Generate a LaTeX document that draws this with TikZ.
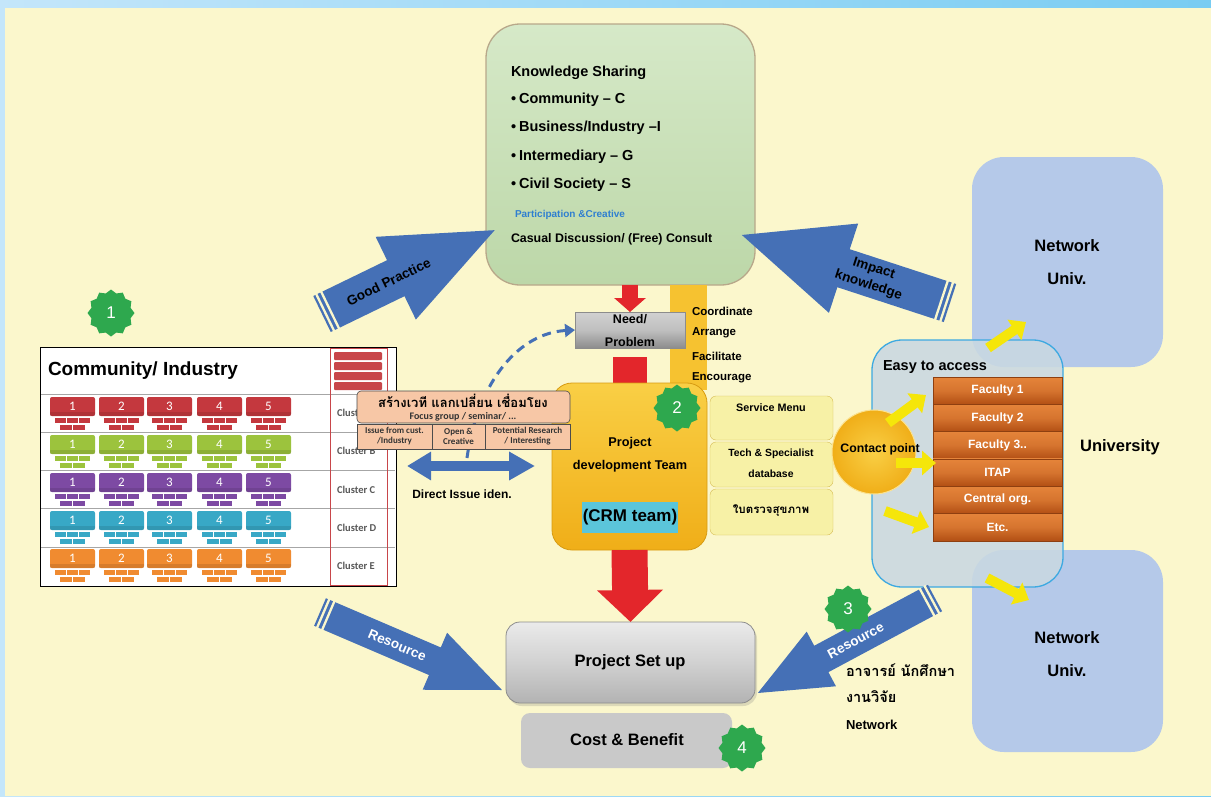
\documentclass[tikz,border=0pt]{standalone}
\usepackage{fontspec}
\setmainfont{Liberation Sans}
\newfontfamily\thai[Script=Thai]{Loma}
\newfontfamily\calfont{Carlito}
\usetikzlibrary{shapes.geometric,arrows.meta,shadows}
\newcommand\fs[1]{\fontsize{#1}{#1}\selectfont}
\definecolor{cream}{HTML}{FBF7CC}
\definecolor{blueL}{HTML}{C4E6FA}
\definecolor{blueR}{HTML}{78CCF2}
\definecolor{kgreenT}{HTML}{D6E9C8}
\definecolor{kgreenB}{HTML}{BCD7A8}
\definecolor{kborder}{HTML}{B8A88A}
\definecolor{arrowblue}{HTML}{4570B6}
\definecolor{pblue}{HTML}{2F7FD0}
\definecolor{ared}{HTML}{E3262B}
\definecolor{gold}{HTML}{F6C230}
\definecolor{goldT}{HTML}{F9CF45}
\definecolor{goldB}{HTML}{F0AE18}
\definecolor{goldD}{HTML}{D79B12}
\definecolor{hcyan}{HTML}{5BC5DA}
\definecolor{svcF}{HTML}{F7F1A6}
\definecolor{svcD}{HTML}{D6BC55}
\definecolor{easyF}{HTML}{C9D8E2}
\definecolor{easyB}{HTML}{3DA9E1}
\definecolor{netF}{HTML}{B5C9E9}
\definecolor{facT}{HTML}{E5843A}
\definecolor{facB}{HTML}{B24F14}
\definecolor{yel}{HTML}{F5E60A}
\definecolor{sgreen}{HTML}{2EA84E}
\definecolor{salmon}{HTML}{F7C7A6}
\definecolor{grayBox}{HTML}{C9C9C9}
\definecolor{tRed}{HTML}{C4383E}
\definecolor{tGreen}{HTML}{9CC33D}
\definecolor{tPurple}{HTML}{7D4AA3}
\definecolor{tCyan}{HTML}{38A8C6}
\definecolor{tOrange}{HTML}{F08B30}
\definecolor{colRed}{HTML}{C8464A}
% fat block arrow: tail x, tail y, angle, length, shaft half, head half, head length, extra code
\newcommand\FatArrow[8]{%
  \begin{scope}[shift={(#1,#2)},rotate=#3]
    \fill[arrowblue] (0,-#5) -- ({#4-#7},-#5) -- ({#4-#7},-#6) -- (#4,0) -- ({#4-#7},#6) -- ({#4-#7},#5) -- (0,#5) -- cycle;
    \draw[cream,line width=2.3pt] (3.5,{-#5-1}) -- (3.5,{#5+1});
    \draw[cream,line width=2.3pt] (9,{-#5-1}) -- (9,{#5+1});
    #8
  \end{scope}}
\begin{document}
\begin{tikzpicture}[x=1pt,y=-1pt,every node/.style={inner sep=0pt,outer sep=0pt},
  bt/.style={font=\bfseries\fs{#1}},
  star1/.style={star, star points=12, star point ratio=1.16, fill=sgreen, minimum size=47pt, text=white, font=\fs{17}},
  netbox/.style={fill=netF, rounded corners=32pt, minimum width=191pt, minimum height=210pt, anchor=north west},
  fac/.style={draw=facB!80!black, top color=facT, bottom color=facB, middle color=facT!70!facB, minimum width=129pt, minimum height=27.3pt, anchor=north west, text=white, font=\bfseries\fs{12}},
  svc/.style={draw=svcD, fill=svcF, rounded corners=6pt, minimum width=123pt, anchor=north west},
  thbox/.style={draw=black!70, fill=salmon, line width=0.6pt},
  yarrow/.style={yel, line width=10pt, -{Triangle[length=14pt,width=24pt]}},
]
\useasboundingbox (0,0) rectangle (1211,796);
% background
\shade[left color=blueL,right color=blueR] (0,0) rectangle (1211,796);
\fill[cream] (5,8) rectangle (1211,796);

% network boxes
\node[netbox] (nu1) at (972,157) {};
\node[netbox, minimum height=202pt] (nu2) at (972,550) {};
\node[font=\bfseries\fs{16.5}] (nu1a) at (1067,246) {Network};
\node[font=\bfseries\fs{16.5}] (nu1b) at (1067,279) {Univ.};
\node[font=\bfseries\fs{16.5}] (nu2a) at (1067,638) {Network};
\node[font=\bfseries\fs{16.5}] (nu2b) at (1067,671) {Univ.};

% easy to access
\node[draw=easyB, line width=1.3pt, fill=easyF, fill opacity=0.88, rounded corners=30pt, minimum width=191pt, minimum height=247pt, anchor=north west] (easy) at (872,340) {};
\node[bt=14.5, anchor=west] (easyt) at (883,367) {Easy to access};
\foreach \i/\t in {0/Faculty 1,1/Faculty 2,2/Faculty 3..,3/ITAP,4/Central org.,5/Etc.}{
  \node[fac] (f\i) at (933,{377+27.3*\i}) {\t};
}
\node[bt=16.5] (univ) at (1120,447) {University};

% knowledge sharing box
\node[draw=kborder, line width=1.3pt, top color=kgreenT, bottom color=kgreenB, rounded corners=34pt, minimum width=269pt, minimum height=261pt, anchor=north west] (ks) at (486,24) {};
\node[bt=14.5, anchor=west] (ks0) at (511,73) {Knowledge Sharing};
\node[bt=14.5, anchor=west] (ks1) at (511,100) {\textbullet\hspace{3pt}Community – C};
\node[bt=14.5, anchor=west] (ks2) at (511,128) {\textbullet\hspace{3pt}Business/Industry –I};
\node[bt=14.5, anchor=west] (ks3) at (511,157) {\textbullet\hspace{3pt}Intermediary – G};
\node[bt=14.5, anchor=west] (ks4) at (511,185) {\textbullet\hspace{3pt}Civil Society – S};
\node[bt=10, anchor=west, text=pblue] (ks5) at (515,215) {Participation \&Creative};
\node[bt=12.4, anchor=west] (ks6) at (511,239) {Casual Discussion/ (Free) Consult};

% gold bar and red parts
\fill[gold] (670,285) rectangle (707,390);
\node[draw=black!45, top color=black!18, bottom color=black!45, middle color=black!25, minimum width=110pt, minimum height=36pt, anchor=north west] (need) at (575,312) {};
\node[bt=12.5] (need1) at (630,319) {Need/};
\node[bt=12.5] (need2) at (630,342) {Problem};
\draw[ared, line width=16pt, -{Triangle[length=14pt,width=31pt]}] ([xshift=9.5pt]ks.south) -- (need.north);
\fill[ared] (613,357) rectangle (647,390);

% coordinate texts
\node[bt=11.5, anchor=west] (co1) at (692,311) {Coordinate};
\node[bt=11.5, anchor=west] (co2) at (692,333) {Arrange};
\node[bt=11.5, anchor=west] (co3) at (692,356) {Facilitate};
\node[bt=11.5, anchor=west] (co4) at (692,378) {Encourage};

% project development team
\node[draw=goldD, line width=0.8pt, top color=goldT, bottom color=goldB, rounded corners=20pt, minimum width=155pt, minimum height=167pt, anchor=north west] (pdt) at (552,383) {};
\node[bt=12.7] (pdt1) at (630,443) {Project};
\node[bt=12.7] (pdt2) at (630,466) {development Team};
\node[fill=hcyan, minimum width=96pt, minimum height=31pt, bt=17] (crm) at (630,517) {(CRM team)};

% service boxes
\node[svc, minimum height=44pt] (sv1) at (710,396) {};
\node[svc, minimum height=45pt] (sv2) at (710,442) {};
\node[svc, minimum height=46pt] (sv3) at (710,489) {};
\node[bt=10.8] (sv1t) at (771,408) {Service Menu};
\node[bt=10.4] (sv2t) at (771,454) {Tech \& Specialist};
\node[bt=10.4] (sv2u) at (771,474) {database};
\node[font=\thai\bfseries\fs{11.5}] (sv3t) at (771,511) {ใบตรวจสุขภาพ};

% contact point
\node[circle, draw=goldT!60!white, line width=1pt, inner color=goldT, outer color=goldB, minimum size=84pt] (cp) at (874,452) {};
\node[bt=12.3] (cpt) at (880,449) {Contact point};

% yellow arrows
\coordinate (y1s) at (888,423); \coordinate (y1e) at (926,395);
\coordinate (y2s) at (896,463); \coordinate (y2e) at (936,463);
\coordinate (y3s) at (885,511); \coordinate (y3e) at (929,527);
\coordinate (y4s) at (988,348); \coordinate (y4e) at (1026,322);
\coordinate (y5s) at (987,578); \coordinate (y5e) at (1029,600);
\draw[yarrow] (y1s) -- (y1e);
\draw[yarrow] (y2s) -- (y2e);
\draw[yarrow] (y3s) -- (y3e);
\draw[yarrow] (y4s) -- (y4e);
\draw[yarrow] (y5s) -- (y5e);

% big red arrow to project set up
\node[draw=black!45, line width=0.8pt, top color=black!8, bottom color=black!30, middle color=black!18, rounded corners=14pt, minimum width=249pt, minimum height=81pt, anchor=north west, drop shadow={opacity=0.25,shadow xshift=2pt,shadow yshift=-3pt}] (psu) at (506,622) {};
\node[bt=16.5] (psut) at (630,662) {Project Set up};
\draw[ared, line width=36pt, -{Triangle[length=32pt,width=64pt]}] (pdt.south) -- (psu.north);
\node[fill=grayBox, rounded corners=9pt, minimum width=211pt, minimum height=55pt, anchor=north west] (cb) at (521,713) {};
\node[bt=16.5] (cbt) at (627,740) {Cost \& Benefit};

% community / industry picture
\node[draw=black, line width=1pt, fill=white, minimum width=356pt, minimum height=239pt, anchor=north west] (ci) at (40,347) {};
\node[font=\bfseries\fs{19}, anchor=west] (cit) at (48,371) {Community/ Industry};
\foreach \yy in {394,432,470,508,547}{
  \draw[black!35, line width=0.7pt] (41,\yy) -- (395,\yy);
}
\draw[colRed, line width=1pt] (330,348) rectangle (387,585);
\foreach \i in {0,1,2,3}{
  \fill[colRed, rounded corners=1pt] (334,{352+10*\i}) rectangle ++(48,8);
}
\foreach \r/\col in {0/tRed,1/tGreen,2/tPurple,3/tCyan,4/tOrange}{
  \foreach \c/\xx in {1/50,2/99,3/147,4/197,5/246}{
    \pgfmathsetmacro\yy{397+38*\r}
    \fill[\col, rounded corners=2pt] (\xx,\yy) rectangle ++(45,19);
    \fill[\col!60!black, opacity=0.25] (\xx,\yy+15) rectangle ++(45,4);
    \node[text=white, font=\calfont\fs{13}] (t\r\c) at (\xx+22.5,\yy+9) {\c};
    \fill[\col] (\xx+5,\yy+21) rectangle ++(11,5);
    \fill[\col] (\xx+17,\yy+21) rectangle ++(11,5);
    \fill[\col] (\xx+29,\yy+21) rectangle ++(11,5);
    \fill[\col] (\xx+10,\yy+28) rectangle ++(12,5);
    \fill[\col] (\xx+23,\yy+28) rectangle ++(12,5);
  }
}
\foreach \r/\l in {0/A,1/B,2/C,3/D,4/E}{
  \node[font=\calfont\bfseries\fs{10.5}, text=black!65, anchor=west] (cl\r) at (337,{413+38.3*\r}) {Cluster \l};
}

% dashed arrow from direct issue to need/problem
\coordinate (dstart) at (467,458);
\draw[arrowblue, line width=3pt, dash pattern=on 9pt off 6pt, -{Triangle[length=10pt,width=13pt]}] (dstart) .. controls (478,380) and (520,333) .. (need.west);

% thai overlay box
\node[thbox, rounded corners=4pt, minimum width=213pt, minimum height=32pt, anchor=north west] (tb) at (357,391) {};
\node[font=\thai\bfseries\fs{13}] (tbt) at (463,401) {สร้างเวที แลกเปลี่ยน เชื่อมโยง};
\node[font=\calfont\bfseries\fs{10}, text=black!80] (tbf) at (463,417) {Focus group / seminar/ ...};
\node[thbox, minimum width=75pt, minimum height=25pt, anchor=north west] (tb1) at (357,424) {};
\node[thbox, minimum width=53pt, minimum height=25pt, anchor=north west] (tb2) at (432,424) {};
\node[thbox, minimum width=85pt, minimum height=25pt, anchor=north west] (tb3) at (485,424) {};
\node[font=\calfont\bfseries\fs{9}, text=black!80, align=center] (tb1t) at (tb1.center) {Issue from cust.\\[1pt]/Industry};
\node[font=\calfont\bfseries\fs{9}, text=black!80, align=center] (tb2t) at (tb2.center) {Open \&\\[1pt]Creative};
\node[font=\calfont\bfseries\fs{9}, text=black!80, align=center] (tb3t) at (tb3.center) {Potential Research\\[1pt]/ Interesting};

% double arrow
\coordinate (da1) at (407,466); \coordinate (da2) at (535,466);
\draw[arrowblue, line width=10pt, {Triangle[length=24pt,width=27pt]}-{Triangle[length=26pt,width=27pt]}] (da1) -- (da2);
\node[bt=12] (dit) at (462,494) {Direct Issue iden.};

% big blue arrows
\FatArrow{322}{314}{25.9}{192}{20}{46}{110}{\node[transform shape, bt=13.5] (gp) at (74,0) {Good Practice};}
\FatArrow{950}{303}{161.9}{219}{20}{47}{107}{\node[transform shape, rotate=180, bt=13.5, align=center] (ik) at (83,0) {Impact\\[4pt]knowledge};}
\FatArrow{320}{612}{-23.2}{198}{15}{31}{73}{\node[transform shape, bt=13.5, text=white] (rl) at (84,0) {Resource};}
\FatArrow{935}{598}{208.2}{201}{15}{31}{72}{\node[transform shape, rotate=180, bt=13.5, text=white] (rr) at (90,0) {Resource};}

% right side thai text
\node[font=\thai\bfseries\fs{14.5}, anchor=west] (th1) at (846,670) {อาจารย์ นักศึกษา};
\node[font=\thai\bfseries\fs{14.5}, anchor=west] (th2) at (846,697) {งานวิจัย};
\node[bt=13, anchor=west] (th3) at (846,725) {Network};

% stars
\node[star1] (s1) at (111,313) {1};
\node[star1] (s2) at (677,408) {2};
\node[star1] (s3) at (848,609) {3};
\node[star1] (s4) at (742,748) {4};
\end{tikzpicture}
\end{document}
